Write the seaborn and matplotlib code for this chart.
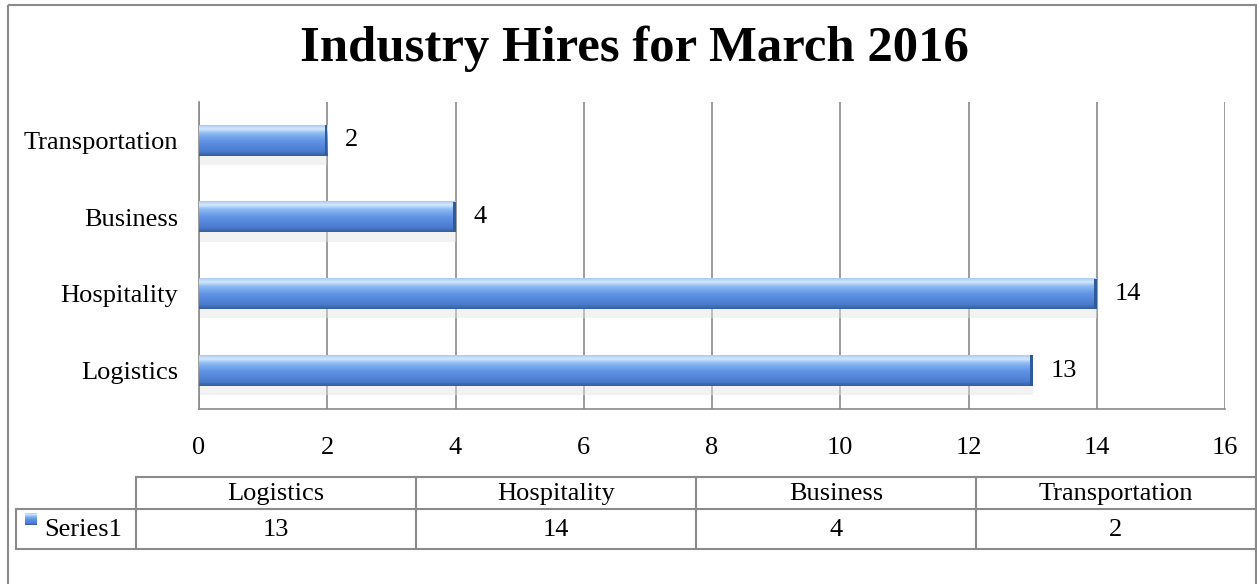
import numpy as np
import pandas as pd
import matplotlib
matplotlib.use("Agg")
import matplotlib.pyplot as plt
import seaborn as sns
from matplotlib.colors import LinearSegmentedColormap
from matplotlib.patches import Rectangle

categories = ["Transportation", "Business", "Hospitality", "Logistics"]
values = [2, 4, 14, 13]
table_order = ["Logistics", "Hospitality", "Business", "Transportation"]
series_name = "Series1"
title = "Industry Hires for March 2016"
xticks = [0, 2, 4, 6, 8, 10, 12, 14, 16]

sns.set_style("white")
plt.rcParams['font.family'] = ['Liberation Serif', 'DejaVu Serif']
plt.rcParams['text.color'] = 'black'
plt.rcParams['xtick.color'] = 'black'
plt.rcParams['ytick.color'] = 'black'

FS = 19
W, H = 1257, 584
fig = plt.figure(figsize=(W / 100, H / 100), dpi=100)

# background overlay axes in pixel coords
bg = fig.add_axes([0, 0, 1, 1], zorder=0)
bg.axis("off")

ax = fig.add_axes([199 / W, 1 - 409 / H, (1225 - 199) / W, 307 / H], zorder=1)
ax.patch.set_alpha(0)

df = pd.DataFrame({"cat": categories, "val": values})
sns.barplot(data=df, y="cat", x="val", order=categories, orient="h",
            width=0.4, color="#5b8fe0", ax=ax, zorder=3)

cmap = LinearSegmentedColormap.from_list(
    "bar", [(0.0, "#34609f"), (0.15, "#4a7bcf"), (0.5, "#6295e6"),
            (0.74, "#8dbbf3"), (0.88, "#d4e8fc"), (1.0, "#a9cbf4")])
grad = np.linspace(0, 1, 100).reshape(-1, 1)
bars = list(ax.patches)
for p in bars:
    x0, y0 = p.get_x(), p.get_y()
    w, h = p.get_width(), p.get_height()
    p.set_facecolor("none")
    p.set_edgecolor("none")
    ax.imshow(grad[::-1], cmap=cmap, aspect="auto",
              extent=[x0, x0 + w, y0 + h, y0], origin="upper", zorder=3)
    # soft shadow under bar
    ax.add_patch(Rectangle((x0, y0 + h), w, h * 0.3, facecolor="#e4e4e4", alpha=0.45,
                           edgecolor="none", zorder=2))
    ax.add_patch(Rectangle((x0 + w - 0.04, y0), 0.04, h, facecolor="#2f5a9c",
                           edgecolor="none", zorder=4))

ax.set_xlim(0, 16)
ax.set_ylim(3.5, -0.5)
ax.set_xticks(xticks)
ax.set_xticklabels([str(t) for t in xticks], fontsize=FS)
ax.tick_params(axis="x", length=0, pad=20)
ax.tick_params(axis="y", length=0, pad=15, labelsize=FS)
ax.set_xlabel("")
ax.set_ylabel("")
for t in xticks:
    ax.axvline(t, color="#8a8a8a", lw=1.2, zorder=1)
for s in ["top", "right"]:
    ax.spines[s].set_visible(False)
for s in ["left", "bottom"]:
    ax.spines[s].set_color("#8a8a8a")
    ax.spines[s].set_linewidth(1.2)

for i, v in enumerate(values):
    ax.text(v + 0.28, i, str(v), va="center", ha="left", fontsize=FS, zorder=5)

fig.text(634 / W, 1 - 49 / H, title, ha="center", va="center",
         fontsize=36.5, fontweight="bold")

# outer border
bg.add_patch(Rectangle((8, 5), 1248, 600, fill=False, edgecolor="#8a8a8a", lw=1.5))

# data table
lc = "#8a8a8a"
col_edges = [16, 136, 416, 696, 976, 1256]
r0, r1, r2 = 477, 509, 549
bg.plot([136, 1256], [r0, r0], color=lc, lw=1.5)
bg.plot([16, 1256], [r1, r1], color=lc, lw=1.5)
bg.plot([16, 1256], [r2, r2], color=lc, lw=1.5)
bg.plot([16, 16], [r1, r2], color=lc, lw=1.5)
for xe in col_edges[1:]:
    bg.plot([xe, xe], [r0, r2], color=lc, lw=1.5)
val_map = dict(zip(categories, values))
for j, c in enumerate(table_order):
    xc = (col_edges[j + 1] + col_edges[j + 2]) / 2
    bg.text(xc, (r0 + r1) / 2 + 1, c, ha="center", va="center", fontsize=FS)
    bg.text(xc, (r1 + r2) / 2 + 1, str(val_map[c]), ha="center", va="center", fontsize=FS)
bg.imshow(grad[::-1], cmap=cmap, extent=[25, 37, 525, 513], aspect="auto", zorder=3)
bg.text(44, (r1 + r2) / 2 + 1, series_name, ha="left", va="center", fontsize=FS)
bg.set_xlim(0, W)
bg.set_ylim(H, 0)

fig.savefig("out.png", dpi=100)
